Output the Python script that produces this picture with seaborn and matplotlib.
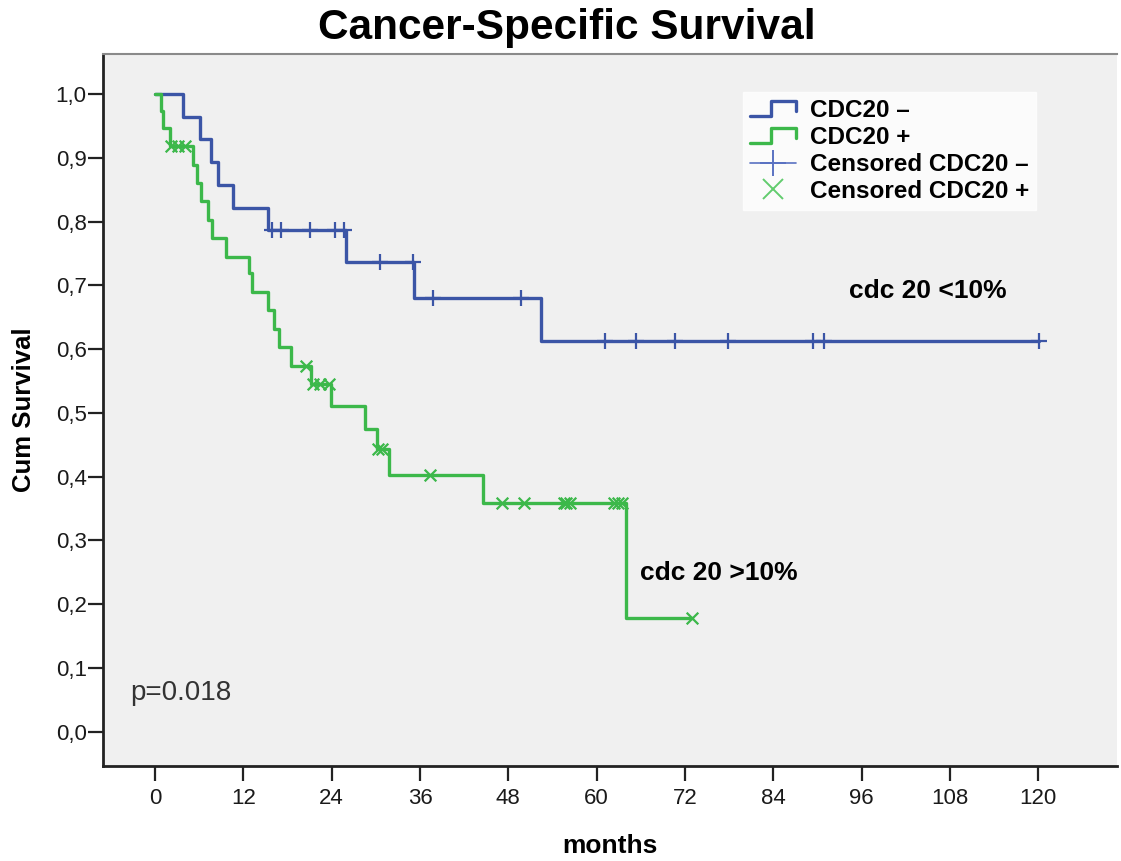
import matplotlib
matplotlib.use("Agg")
import matplotlib.pyplot as plt
from matplotlib.legend_handler import HandlerBase
from matplotlib.lines import Line2D
import numpy as np
import pandas as pd
import seaborn as sns

# Kaplan-Meier steps (month of event, survival after it)
neg_event_months = [0, 3.8, 6.1, 7.6, 8.6, 10.6, 15.3, 26.0, 35.2, 52.5]
neg_survival = [1.0, 0.964, 0.929, 0.893, 0.857, 0.821, 0.786, 0.737, 0.680, 0.612]
neg_censored = [15.9, 17.1, 21.0, 24.4, 25.7, 30.6, 35.0, 37.8, 49.7,
                61.2, 65.4, 70.6, 77.8, 89.4, 90.9, 120.1]

pos_event_months = [0, 0.8, 1.1, 2.0, 5.2, 5.7, 6.25, 7.2, 7.8, 9.7, 12.7, 13.1,
                    15.3, 16.1, 16.9, 18.5, 21.2, 23.9, 28.5, 30.1, 31.8, 44.6, 64.0]
pos_survival = [1.0, 0.974, 0.947, 0.918, 0.889, 0.860, 0.832, 0.802, 0.774, 0.745,
                0.719, 0.690, 0.661, 0.632, 0.603, 0.574, 0.545, 0.511, 0.475,
                0.443, 0.402, 0.358, 0.179]
pos_censored = [2.2, 3.1, 4.1, 20.5, 21.5, 22.4, 23.6, 30.3, 30.8, 37.4, 47.2,
                50.1, 55.5, 55.9, 56.4, 62.3, 62.9, 63.4, 73.0]

group_names = ["CDC20 \u2013", "CDC20 +"]
x_ticks = [0, 12, 24, 36, 48, 60, 72, 84, 96, 108, 120]
y_ticks = [0.0, 0.1, 0.2, 0.3, 0.4, 0.5, 0.6, 0.7, 0.8, 0.9, 1.0]
y_tick_labels = ["0,0", "0,1", "0,2", "0,3", "0,4", "0,5", "0,6", "0,7", "0,8", "0,9", "1,0"]

BLUE = "#3b55a6"
GREEN = "#3cb84a"


def km_frames(name, events, surv, censored):
    """Step table (extended to the last censor) and censor points for one group."""
    events = np.asarray(events)
    surv = np.asarray(surv)
    last = max(censored[-1], events[-1])
    steps = pd.DataFrame({"months": list(events) + [last],
                          "survival": list(surv) + [surv[-1]],
                          "group": name})
    idx = np.searchsorted(events, censored, side="right") - 1
    cens = pd.DataFrame({"months": censored, "survival": surv[idx], "group": name})
    return steps, cens


neg_steps, neg_cens = km_frames(group_names[0], neg_event_months, neg_survival, neg_censored)
pos_steps, pos_cens = km_frames(group_names[1], pos_event_months, pos_survival, pos_censored)
steps = pd.concat([neg_steps, pos_steps], ignore_index=True)


class StepHandler(HandlerBase):
    """Legend icon shaped like a small survival step."""
    def create_artists(self, legend, orig_handle, xdescent, ydescent,
                       width, height, fontsize, trans):
        x0 = -xdescent
        x1 = x0 + width
        ylo = -ydescent + 0.05 * height
        yhi = -ydescent + 0.95 * height
        xs = [x0, x0 + 0.45 * width, x0 + 0.45 * width, x1, x1]
        ys = [ylo, ylo, yhi, yhi, ylo + 0.35 * (yhi - ylo)]
        line = Line2D(xs, ys, color=orig_handle.get_color(),
                      lw=orig_handle.get_linewidth(), transform=trans)
        return [line]


sns.set_style("white")
plt.rcParams["font.family"] = ["Liberation Sans", "DejaVu Sans"]
plt.rcParams["text.color"] = "black"
plt.rcParams["axes.labelcolor"] = "black"

fig = plt.figure(figsize=(11.21, 8.61), dpi=100)
ax = fig.add_axes([0.0922, 0.1103, 0.9042, 0.8270])
ax.set_facecolor("#f0f0f0")

sns.lineplot(data=steps, x="months", y="survival", hue="group",
             palette={group_names[0]: BLUE, group_names[1]: GREEN},
             drawstyle="steps-post", estimator=None, sort=False,
             linewidth=2.4, legend=False, ax=ax)
sns.scatterplot(data=neg_cens, x="months", y="survival", marker="+", s=130,
                color=BLUE, linewidth=1.6, ax=ax, zorder=3)
sns.scatterplot(data=pos_cens, x="months", y="survival", marker="x", s=70,
                color=GREEN, linewidth=1.6, ax=ax, zorder=3)

ax.set_xlim(-7.03, 130.7)
ax.set_ylim(-0.0538, 1.0627)
ax.set_xticks(x_ticks)
ax.set_xticklabels([str(t) for t in x_ticks])
ax.set_yticks(y_ticks)
ax.set_yticklabels(y_tick_labels)
ax.tick_params(axis="both", direction="out", length=11, width=1.6,
               labelsize=16, color="#222222", labelcolor="#1a1a1a")
ax.tick_params(axis="x", pad=5)
ax.tick_params(axis="y", pad=1)
ax.tick_params(bottom=True, left=True)

for side in ["left", "bottom"]:
    ax.spines[side].set_color("#222222")
    ax.spines[side].set_linewidth(2)
ax.spines["top"].set_color("#8a8a8a")
ax.spines["top"].set_linewidth(1.5)
ax.spines["right"].set_visible(False)

ax.set_xlabel("months", fontsize=19, fontweight="bold", labelpad=18)
ax.set_ylabel("Cum Survival", fontsize=18.5, fontweight="bold", labelpad=14)
fig.suptitle("Cancer-Specific Survival", x=0.506, y=0.967, va="center",
             fontsize=30.5, fontweight="bold", color="black")

ax.text(94.3, 0.691, "cdc 20 <10%", fontsize=19, fontweight="bold", va="center")
ax.text(65.9, 0.249, "cdc 20 >10%", fontsize=19, fontweight="bold", va="center")
ax.text(-3.4, 0.061, "p=0.018", fontsize=20, color="#333333", va="center")

# Legend
neg_line = Line2D([], [], color=BLUE, lw=2.4)
pos_line = Line2D([], [], color=GREEN, lw=2.4)
neg_mark = Line2D([], [], color="#5a72c2", lw=1.2, marker="+", markersize=19,
                  markeredgewidth=1.4)
pos_mark = Line2D([], [], color="#62cc6e", lw=0, marker="x", markersize=15,
                  markeredgewidth=1.4)
leg = ax.legend([neg_line, pos_line, neg_mark, pos_mark],
                group_names + ["Censored " + group_names[0], "Censored " + group_names[1]],
                handler_map={neg_line: StepHandler(), pos_line: StepHandler()},
                loc="upper left", bbox_to_anchor=(0.631, 0.9466),
                prop={"weight": "bold", "size": 17.5}, frameon=True, fancybox=False,
                handlelength=1.9, handletextpad=0.55, labelspacing=0.16,
                borderpad=0.3, borderaxespad=0)
leg.get_frame().set_facecolor("white")
leg.get_frame().set_edgecolor("white")

fig.savefig("out.png", dpi=100)
